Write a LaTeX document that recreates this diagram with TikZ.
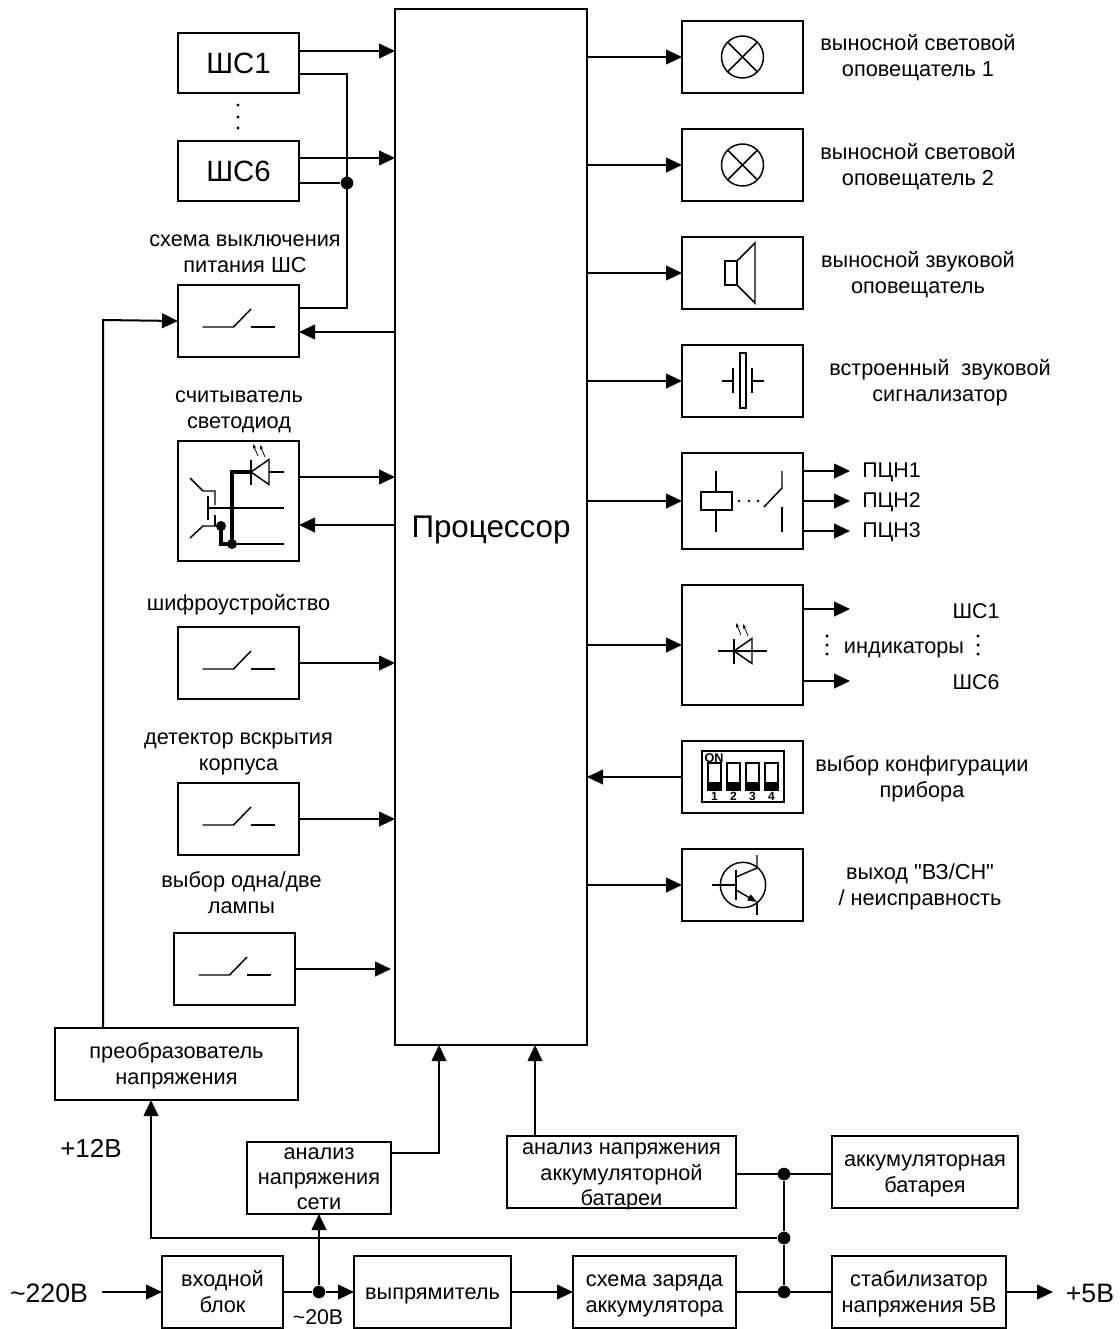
\documentclass[tikz,border=0pt]{standalone}
\usepackage{fontspec}
\setmainfont{Liberation Sans}
\usetikzlibrary{calc,positioning,arrows.meta}
\newcommand{\topstrut}{\rule{0pt}{17pt}}
\tikzset{
    block/.style={rectangle, draw=black, line width=1.5pt, text centered, inner sep=0pt, outer sep=0pt,
        font=\fontsize{16.3}{19.5}\selectfont, align=center},
    boxsize/.style 2 args={minimum width=#1*0.75pt, minimum height=#2*0.75pt},
    small_block/.style={block, boxsize={121}{72}},
    line/.style={-{Triangle[length=12pt,width=11pt]}, line width=1.5pt},
    wire/.style={line width=1.5pt},
    sym/.style={line width=1.1pt},
    caption/.style={font=\fontsize{16.3}{19.5}\selectfont, align=center, inner sep=0pt},
    big_label/.style={font=\fontsize{20}{24}\selectfont, inner sep=0pt},
    joint/.style={circle, fill=black, inner sep=0pt, minimum size=9.5pt},
    switchsym/.pic={
        \draw[sym] (-36,6) -- (-5,6) -- (12.5,-12);
        \draw[sym] (12.5,6) -- (36.5,6);
    },
    lampsym/.pic={
        \draw[sym] (0,0) circle (15.75pt);
        \draw[sym] (-15,-15) -- (15,15);
        \draw[sym] (-15,15) -- (15,-15);
    },
    ledsym/.pic={
        \draw[sym] (0,-12.5) -- (0,12.5);
        \draw[sym] (18,-12.5) -- (0,0) -- (18,12.5) -- cycle;
        \draw[-{Stealth[length=3.5pt,width=2.5pt]}, line width=0.6pt] (14,-15) -- (9,-27);
        \draw[-{Stealth[length=3.5pt,width=2.5pt]}, line width=0.6pt] (7,-16) -- (2,-28);
    },
}
\begin{document}
\begin{tikzpicture}
        [x=0.75pt, y=-0.75pt, node distance=27pt]
        \useasboundingbox (0,0) rectangle (1120,1329);

        % Processor
        \node[block, boxsize={192}{1036}, font=\fontsize{23.5}{28}\selectfont] (proc) at (491,527) {\rule{0pt}{24pt}Процессор\strut};

        % Inputs on the left
        \node[block, boxsize={121}{60}, font=\fontsize{22}{26}\selectfont] (sc1) at (238.5,63) {ШС1};
        \node[block, boxsize={121}{60}, font=\fontsize{22}{26}\selectfont] (sc6) at (238.5,171) {ШС6};
        \node[small_block] (pwr) at (238.5,321) {};
        \node[small_block, minimum height=90pt] (reader) at (238.5,501) {};
        \node[small_block] (cipher) at (238.5,663) {};
        \node[small_block] (tamper) at (238.5,819) {};
        \node[small_block] (lamps) at (234.5,969) {};
        \foreach \name in {pwr,cipher,tamper,lamps}
            \pic at (\name) {switchsym};

        \node[caption] (pwr_text) at (245,252.5) {\topstrut схема выключения\\питания ШС\strut};
        \node[caption] (reader_text) at (239,408) {\topstrut считыватель\\светодиод\strut};
        \node[caption] (cipher_text) at (238.5,603) {\topstrut шифроустройство\strut};
        \node[caption] (tamper_text) at (238.5,750) {\topstrut детектор вскрытия\\корпуса\strut};
        \node[caption] (lamps_text) at (241.5,893) {\topstrut выбор одна/две\\лампы\strut};

        % Dots between the loops
        \foreach \y in {105,117,128}
            \fill (238,\y) circle (1.2pt);

        % Outputs on the right
        \node[small_block] (lamp1) at (742.5,57) {};
        \node[small_block, below=of lamp1] (lamp2) {};
        \node[small_block, below=of lamp2] (horn) {};
        \node[small_block, below=of horn] (buzzer) {};
        \node[small_block, minimum height=72pt] (relay) at (742.5,501) {};
        \node[small_block, minimum height=90pt] (leds) at (742.5,645) {};
        \node[small_block] (dip) at (742.5,777) {};
        \node[small_block, below=of dip] (trans) {};

        \node[caption] (lamp1_text) at (918,56) {\topstrut выносной световой\\оповещатель 1\strut};
        \node[caption] (lamp2_text) at (918,165) {\topstrut выносной световой\\оповещатель 2\strut};
        \node[caption] (horn_text) at (918,273) {\topstrut выносной звуковой\\оповещатель\strut};
        \node[caption] (buzzer_text) at (940,381) {\topstrut встроенный\ \ звуковой\\сигнализатор\strut};
        \node[caption] (leds_text) at (904,646) {\topstrut индикаторы\strut};
        \node[caption] (dip_text) at (922,777) {\topstrut выбор конфигурации\\прибора\strut};
        \node[caption] (trans_text) at (920,885.5) {\topstrut выход \textquotedbl ВЗ/СН\textquotedbl\\/ неисправность\strut};

        \node[big_label, anchor=west, font=\fontsize{16}{19}\selectfont] (pcn1) at (862,472) {ПЦН1};
        \node[big_label, anchor=west, font=\fontsize{16}{19}\selectfont] (pcn2) at (862,502) {ПЦН2};
        \node[big_label, anchor=west, font=\fontsize{16}{19}\selectfont] (pcn3) at (862,532) {ПЦН3};
        \node[big_label, font=\fontsize{16}{19}\selectfont] (led1) at (976,611) {ШС1};
        \node[big_label, font=\fontsize{16}{19}\selectfont] (led6) at (976,682) {ШС6};
        \foreach \y in {636,645,654} {
            \fill (827,\y) circle (1.3pt);
            \fill (978,\y) circle (1.3pt);
        }

        % Power part
        \node[block, boxsize={243}{72}] (conv) at (176.5,1064) {\topstrut преобразователь\\напряжения\strut};
        \node[block, boxsize={144}{72}, font=\fontsize{16.3}{18.75}\selectfont] (mains) at (319,1178) {\rule{0pt}{10pt}анализ\\напряжения\\сети};
        \node[block, boxsize={229}{72}, font=\fontsize{16.3}{19}\selectfont] (batan) at (621.5,1172) {\rule{0pt}{12pt}анализ напряжения\\аккумуляторной\\\smash{батареи}};
        \node[block, boxsize={186}{72}] (bat) at (925,1172) {\topstrut аккумуляторная\\батарея\strut};
        \node[block, boxsize={121}{72}] (input) at (222.5,1292) {\topstrut входной\\блок\strut};
        \node[block, boxsize={157}{72}] (rect) at (432.5,1292) {\topstrut выпрямитель\strut};
        \node[block, boxsize={163}{72}] (charge) at (654.5,1292) {\topstrut схема заряда\\аккумулятора\strut};
        \node[block, boxsize={174}{72}] (stab) at (919,1292) {\topstrut стабилизатор\\напряжения 5В\strut};

        \node[big_label] (v220) at (49,1293) {\textasciitilde 220В};
        \node[big_label, font=\fontsize{19.5}{24}\selectfont] (v12) at (91,1148) {+12В};
        \node[big_label] (v5) at (1090,1293) {+5В};
        \node[big_label, font=\fontsize{16}{19}\selectfont] (v20) at (318,1317) {\textasciitilde 20В};
        \coordinate (v220_out) at (102,1292);
        \coordinate (v5_out) at (1053,1292);

        \node[joint] (j_loop) at (347,183) {};
        \node[joint] (j_20) at (319,1292) {};
        \node[joint] (j_bat) at (784,1174) {};
        \node[joint] (j_12) at (784,1238) {};
        \node[joint] (j_out) at (784,1292) {};

        % Lines, left side
        \draw[line] (sc1.east |- 0,51) -- (proc.west |- 0,51);
        \draw[line] (sc6.east |- 0,158) -- (proc.west |- 0,158);
        \draw[wire] (sc1.east |- 0,74) -- (347,74) -- (347,308) -- (pwr.east |- 0,308);
        \draw[wire] (sc6.east |- j_loop) -- (j_loop);
        \draw[line] (proc.west |- 0,332) -- (pwr.east |- 0,332);
        \draw[line] (reader.east |- 0,477) -- (proc.west |- 0,477);
        \draw[line] (proc.west |- 0,525) -- (reader.east |- 0,525);
        \draw[line] (cipher.east) -- (proc.west |- cipher);
        \draw[line] (tamper.east) -- (proc.west |- tamper);
        \draw[line] (lamps.east) -- (391,969);
        \draw[line] (conv.north -| 103,0) -- (103,320) -- (pwr.west);

        % Lines, right side
        \foreach \name in {lamp1,lamp2,horn,buzzer,relay,leds,trans}
            \draw[line] (proc.east |- \name) -- (\name.west);
        \draw[line] (dip.west) -- (proc.east |- dip);
        \draw[line] (relay.east |- 0,471) -- ++(47,0);
        \draw[line] (relay.east |- 0,501) -- ++(47,0);
        \draw[line] (relay.east |- 0,531) -- ++(47,0);
        \draw[line] (leds.east |- 0,609) -- ++(47,0);
        \draw[line] (leds.east |- 0,681) -- ++(47,0);

        % Lines, bottom
        \draw[line] (v220_out) -- (input.west);
        \draw[wire] (input.east) -- (j_20);
        \draw[line] (j_20) -- (rect.west);
        \draw[line] (rect.east) -- (charge.west);
        \draw[wire] (charge.east) -- (stab.west);
        \draw[line] (stab.east) -- (v5_out);
        \draw[line] (j_20) -- (mains.south -| j_20);
        \draw[line] (j_12) -- (151,1238) -- (conv.south -| 151,0);
        \draw[line] (mains.east |- 0,1153) -- (439,1153) -- (proc.south -| 439,0);
        \draw[line] (batan.north -| 535,0) -- (proc.south -| 535,0);
        \draw[wire] (batan.east |- j_bat) -- (bat.west |- j_bat);
        \draw[wire] (j_bat) -- (j_12) -- (j_out);

        % Lamps
        \pic at (lamp1) {lampsym};
        \pic at (lamp2) {lampsym};

        % Horn
        \draw[sym] (725,261) rectangle (737,285);
        \draw[sym] (737,261) -- (755,243) -- (755,303) -- (737,285);

        % Buzzer
        \draw[sym] (722,381) -- (733,381);
        \draw[sym] (733,368) -- (733,393);
        \draw[sym] (740,353) rectangle (746,408);
        \draw[sym] (752,368) -- (752,393);
        \draw[sym] (752,381) -- (764,381);

        % Relay
        \draw[sym] (701,492) rectangle (732,510);
        \draw[sym] (716,471) -- (716,492);
        \draw[sym] (716,510) -- (716,532);
        \foreach \x in {739,749,758}
            \fill (\x,501) circle (1.1pt);
        \draw[sym] (782,471) -- (782,488) -- (764,507);
        \draw[sym] (782,507) -- (782,532);

        % Indicator
        \draw[sym] (718,651) -- (767,651);
        \pic at (734,651) {ledsym};

        % Reader
        \pic at (251,472) {ledsym};
        \draw[sym] (269,472) -- (284,472);
        \draw[line width=2.4pt] (251,472) -- (232,472) -- (232,544) -- (221,544) -- (221,526);
        \draw[sym] (232,544) -- (284,544);
        \draw[sym] (208,508) -- (284,508);
        \draw[sym] (208,496) -- (208,520);
        \draw[sym] (190,478) -- (203,491) -- (215,491) -- (215,505);
        \draw[sym] (190,538) -- (203,526) -- (221,526);
        \draw[sym] (215,526) -- (215,515);
        \fill (232,544) circle (3.75pt);
        \fill (221,526) circle (3.75pt);

        % DIP switches
        \draw[sym] (702,751) rectangle (784,802);
        \foreach \x/\n in {708/1,727/2,746/3,765/4} {
            \draw[line width=0.9pt] (\x,763) rectangle ++(13,27);
            \fill (\x,782) rectangle ++(13,8);
            \node[inner sep=0pt, font=\fontsize{9}{9}\bfseries\selectfont] (dip\n) at ($(\x,796)+(6.5,0)$) {\n};
        }
        \node[inner sep=0pt, font=\fontsize{9.5}{9.5}\bfseries\selectfont] (dip_on) at (714,758) {ON};

        % Transistor
        \draw[sym] (743,885) circle (17pt);
        \draw[sym] (712,885) -- (736,885);
        \draw[line width=1.5pt] (736,870) -- (736,900);
        \draw[sym] (736,877) -- (757,868) -- (757,855);
        \draw[sym] (757,902) -- (757,915);
        \draw[sym, -{Triangle[length=7pt,width=5pt]}] (736,890) -- (757,902);

    \end{tikzpicture}
\end{document}
